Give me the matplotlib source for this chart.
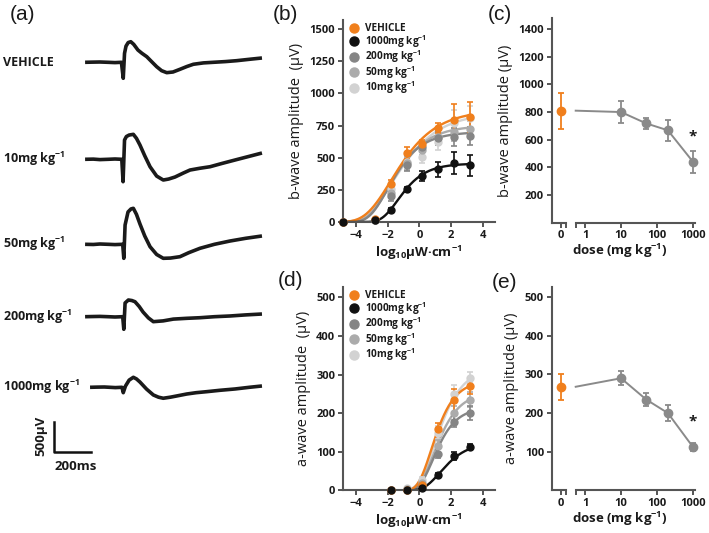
import numpy as np
import matplotlib
matplotlib.use("Agg")
import matplotlib.pyplot as plt
from matplotlib.lines import Line2D

plt.rcParams['font.family'] = ['Open Sans', 'DejaVu Sans']
plt.rcParams['mathtext.default'] = 'regular'

# ---------------- data ----------------
groups = ["VEHICLE", "1000mg kg$^{-1}$", "200mg kg$^{-1}$", "50mg kg$^{-1}$", "10mg kg$^{-1}$"]
group_colors = ["#F07F1C", "#111111", "#858585", "#ababab", "#d2d2d2"]

# (b) b-wave intensity response
x_b = [-4.8, -2.8, -1.8, -0.8, 0.2, 1.2, 2.2, 3.2]
b_veh = [0, 20, 295, 535, 610, 730, 790, 815]
b_veh_err = [0, 5, 30, 45, 30, 40, 130, 115]
b_1000 = [0, 15, 95, 255, 355, 410, 460, 440]
b_1000_err = [0, 5, 10, 20, 40, 60, 85, 80]
b_200 = [0, 15, 200, 440, 580, 650, 660, 670]
b_200_err = [0, 5, 35, 45, 35, 50, 70, 70]
b_50 = [0, 15, 225, 455, 560, 660, 700, 725]
b_50_err = [0, 5, 40, 50, 40, 50, 70, 60]
b_10 = [0, 15, 260, 470, 505, 620, 770, 810]
b_10_err = [0, 5, 50, 60, 50, 60, 100, 90]
# fitted curve parameters: (top, inflection, rate)
b_fit = [(870, -1.8, 0.62), (455, -1.38, 1.0), (700, -2.0, 0.85), (750, -1.9, 0.75), (850, -1.7, 0.6)]

# (d) a-wave intensity response
x_a = [-1.8, -0.8, 0.2, 1.2, 2.2, 3.2]
a_veh = [0, 2, 15, 160, 233, 270]
a_veh_err = [0, 1, 5, 15, 30, 20]
a_1000 = [0, 0, 5, 39, 90, 112]
a_1000_err = [0, 0, 2, 6, 10, 8]
a_200 = [0, 2, 15, 95, 178, 201]
a_200_err = [0, 2, 5, 12, 15, 18]
a_50 = [0, 3, 20, 115, 200, 235]
a_50_err = [0, 2, 6, 15, 18, 20]
a_10 = [0, 5, 28, 150, 250, 292]
a_10_err = [0, 3, 8, 18, 22, 15]
a_fit = [(285, 0.75, 1.2), (125, 1.3, 1.0), (215, 0.85, 1.2), (255, 0.9, 1.1), (320, 0.95, 1.0)]

# (c) / (e) dose response
doses = [10, 50, 200, 1000]
c_vehicle, c_vehicle_err = 810, 130
c_bwave = [800, 718, 668, 440]
c_bwave_err = [80, 42, 75, 80]
e_vehicle, e_vehicle_err = 268, 33
e_awave = [290, 235, 200, 112]
e_awave_err = [18, 18, 20, 10]

# (a) ERG traces: time (ms from flash), amplitude (uV)
trace_labels = ["VEHICLE", "10mg kg$^{-1}$", "50mg kg$^{-1}$", "200mg kg$^{-1}$", "1000mg kg$^{-1}$"]
veh_t = [-205, -160, -124, -80, -42, -7, 3, 10, 18, 30, 44, 60, 83, 105, 131, 158, 185, 212, 240,
         274, 312, 350, 385, 440, 494, 560, 621, 690, 759]
veh_v = [0, 3, 5, 0, -5, 0, -267, 150, 270, 330, 344, 300, 205, 150, 94, 10, -73, -140, -173,
         -162, -117, -70, -33, -10, 0, 12, 27, 50, 72]
ten_t = [-205, -160, -124, -80, -42, -5, 2, 10, 20, 35, 58, 75, 94, 120, 149, 185, 221, 250, 285,
         330, 367, 420, 476, 540, 612, 690, 759]
ten_v = [0, 3, -5, 0, 5, 0, -374, 322, 380, 405, 417, 350, 239, 60, -124, -280, -346, -330, -296,
         -230, -179, -150, -124, -70, -12, 50, 105]
fifty_t = [-205, -160, -124, -80, -42, 0, 6, 13, 29, 45, 58, 75, 94, 120, 149, 185, 221, 260, 312,
           360, 421, 500, 585, 670, 759]
fifty_v = [0, -3, 5, 0, -5, 0, -234, 322, 540, 590, 601, 500, 340, 140, -40, -170, -234, -230, -207,
           -140, -67, 0, 55, 100, 139]
two_t = [-205, -160, -124, -80, -42, 0, 6, 13, 31, 50, 67, 90, 111, 140, 167, 220, 276, 349, 421,
         500, 585, 670, 759]
two_v = [0, 3, 5, 0, -5, 0, -210, 229, 279, 270, 250, 170, 78, -20, -83, -70, -40, -27, -17,
         0, 12, 30, 45]
thou_t = [-178, -140, -100, -70, -40, -4, 3, 15, 35, 58, 75, 94, 130, 167, 195, 221, 260, 294, 349,
          400, 458, 530, 612, 690, 759]
thou_v = [0, 3, 5, 0, -5, 0, -90, 20, 120, 167, 140, 88, -30, -128, -165, -183, -165, -145, -112,
          -90, -73, -50, -28, 0, 22]

# ---------------- helpers ----------------
W, H = 709, 533
SPINE = "#555555"
TXT = "#1a1a1a"


def px_axes(x0, y_top, x1, y_bot):
    return fig.add_axes([x0 / W, 1 - y_bot / H, (x1 - x0) / W, (y_bot - y_top) / H])


def gompertz(x, top, x0, c):
    return top * np.exp(-np.exp(-c * (x - x0)))


def style_axis(ax, fs=8):
    for s in ["top", "right"]:
        ax.spines[s].set_visible(False)
    for s in ["left", "bottom"]:
        ax.spines[s].set_color(SPINE)
        ax.spines[s].set_linewidth(1.5)
    ax.tick_params(direction='out', length=3.5, width=1.4, color=SPINE,
                   labelsize=fs, labelcolor=TXT, pad=2)
    ax.patch.set_alpha(0)


def bold_ticks(ax):
    for lab in ax.get_xticklabels() + ax.get_yticklabels():
        lab.set_fontweight('bold')


fig = plt.figure(figsize=(W / 100, H / 100), dpi=100)

# ---------------- panel (a) ----------------
MS_PER_PX, UV_PER_PX, FLASH_PX = 5.45, 16.7, 122.7
ax_a = fig.add_axes([0, 0, 270 / W, 1])
ax_a.set_xlim((0 - FLASH_PX) * MS_PER_PX, (270 - FLASH_PX) * MS_PER_PX)
ax_a.set_ylim(0, H * UV_PER_PX)
ax_a.axis('off')
trace_base_px = [62.3, 159.3, 244.3, 316.7, 387.3]
traces = [(veh_t, veh_v), (ten_t, ten_v), (fifty_t, fifty_v), (two_t, two_v), (thou_t, thou_v)]
for (tt, vv), bp, lab in zip(traces, trace_base_px, trace_labels):
    off = (H - bp) * UV_PER_PX
    ax_a.plot(tt, np.asarray(vv) + off, color="#1a1a1a", lw=2.6,
              solid_joinstyle='round', solid_capstyle='butt')
    fig.text(3 / W, 1 - bp / H, lab, ha='left', va='center', fontsize=9,
             fontweight='bold', color=TXT)
# scale bar
sb_x0 = (54 - FLASH_PX) * MS_PER_PX
sb_y0 = (H - 451.7) * UV_PER_PX
ax_a.plot([sb_x0, sb_x0, sb_x0 + 200], [sb_y0 + 500, sb_y0, sb_y0], color="#111111", lw=1.8)
fig.text(41 / W, 1 - 436 / H, "500µV", rotation=90, ha='center', va='center',
         fontsize=9.5, fontweight='bold', color=TXT)
fig.text(76 / W, 1 - 466 / H, "200ms", ha='center', va='center',
         fontsize=9.5, fontweight='bold', color=TXT)

# panel letters
for lab, x, y in [("(a)", 10, 15), ("(b)", 273, 15), ("(c)", 488, 15), ("(d)", 278, 280), ("(e)", 492, 282)]:
    fig.text(x / W, 1 - y / H, lab, ha='left', va='center', fontsize=15,
             family=['Liberation Sans', 'DejaVu Sans'], color=TXT)


# ---------------- intensity-response panels ----------------
def intensity_panel(ax, x, series, errs, fits, ylim, yticks, ylabel, curve_x0):
    ax.set_xlim(-4.83, 4.79)
    ax.set_ylim(*ylim)
    ax.set_xticks([-4, -2, 0, 2, 4])
    ax.set_yticks(yticks)
    xs = np.linspace(curve_x0, x[-1], 200)
    order = [4, 3, 2, 0, 1]
    for k in order:
        ys, es, col = series[k], errs[k], group_colors[k]
        ax.plot(xs, gompertz(xs, *fits[k]), color=col, lw=1.7, zorder=2)
        ax.errorbar(x, ys, yerr=es, fmt='o', color=col, ms=5, elinewidth=1.2,
                    capsize=2.3, capthick=1.2, zorder=3, clip_on=False)
    style_axis(ax)
    bold_ticks(ax)
    ax.set_ylabel(ylabel, fontsize=10.5, color=TXT, labelpad=4)
    ax.set_xlabel("log$_{10}$µW·cm$^{-1}$", fontsize=9.5, fontweight='bold', color=TXT, labelpad=2)
    handles = [Line2D([], [], marker='o', ls='', color=c, ms=6.5) for c in group_colors]
    leg = ax.legend(handles, groups, loc='upper left', bbox_to_anchor=(0.045, 0.985),
                    frameon=False, fontsize=7.2, handlelength=0.8, handletextpad=0.7,
                    labelspacing=-0.12, borderpad=0, borderaxespad=0)
    for t in leg.get_texts():
        t.set_fontweight('bold')
        t.set_color(TXT)


ax_b = px_axes(343, 20, 495, 222)
intensity_panel(ax_b, x_b, [b_veh, b_1000, b_200, b_50, b_10],
                [b_veh_err, b_1000_err, b_200_err, b_50_err, b_10_err], b_fit,
                (0, 1570), [0, 250, 500, 750, 1000, 1250, 1500],
                "b-wave amplitude  (µV)", -4.5)

ax_d = px_axes(343, 287, 495, 490.4)
intensity_panel(ax_d, x_a, [a_veh, a_1000, a_200, a_50, a_10],
                [a_veh_err, a_1000_err, a_200_err, a_50_err, a_10_err], a_fit,
                (0, 527), [0, 100, 200, 300, 400, 500],
                "a-wave amplitude  (µV)", -1.8)


# ---------------- dose-response panels ----------------
def dose_panel(y_top, y_bot, ylim, yticks, ylabel, veh, veh_err, vals, errs, star_y):
    ax0 = px_axes(551.7, y_top, 566, y_bot)
    ax1 = px_axes(575.7, y_top, 695, y_bot)
    for ax in (ax0, ax1):
        ax.set_ylim(*ylim)
        style_axis(ax, fs=8)
    ax0.set_xlim(-0.8, 0.4)
    ax0.set_xticks([0, 0.4])
    ax0.set_xticklabels(["0", ""])
    ax0.set_yticks(yticks)
    bold_ticks(ax0)
    ax0.set_ylabel(ylabel, fontsize=10.5, color=TXT, labelpad=4)
    ax0.errorbar([0], [veh], yerr=[veh_err], fmt='o', color=group_colors[0], ms=6,
                 elinewidth=1.3, capsize=2.5, capthick=1.3, clip_on=False, zorder=3)

    ax1.set_xscale('log')
    ax1.set_xlim(0.55, 1135)
    ax1.spines['left'].set_visible(False)
    ax1.set_yticks([])
    ax1.set_xticks([0.55, 1, 10, 100, 1000])
    ax1.set_xticklabels(["", "1", "10", "100", "1000"])
    ax1.xaxis.set_minor_locator(matplotlib.ticker.NullLocator())
    bold_ticks(ax1)
    gcol = "#8a8a8a"
    x_left = ax1.get_xlim()[0]
    ax1.plot([x_left] + doses, [veh] + vals, color=gcol, lw=1.4, zorder=2, clip_on=False)
    ax1.errorbar(doses, vals, yerr=errs, fmt='o', color=gcol, ms=6, elinewidth=1.3,
                 capsize=2.5, capthick=1.3, zorder=3, clip_on=False)
    ax1.text(doses[-1], star_y, "*", ha='center', va='center', fontsize=11,
             fontweight='bold', color=TXT)
    fig.text(620 / W, 1 - (y_bot + 28) / H, "dose (mg kg$^{-1}$)",
             ha='center', va='center', fontsize=9.5, fontweight='bold', color=TXT)


dose_panel(18, 222.7, (0, 1480), [200, 400, 600, 800, 1000, 1200, 1400],
           "b-wave amplitude (µV)", c_vehicle, c_vehicle_err, c_bwave, c_bwave_err, 625)
dose_panel(286.6, 490.4, (0, 527), [100, 200, 300, 400, 500],
           "a-wave amplitude (µV)", e_vehicle, e_vehicle_err, e_awave, e_awave_err, 178)

fig.savefig("out.png", dpi=100)
